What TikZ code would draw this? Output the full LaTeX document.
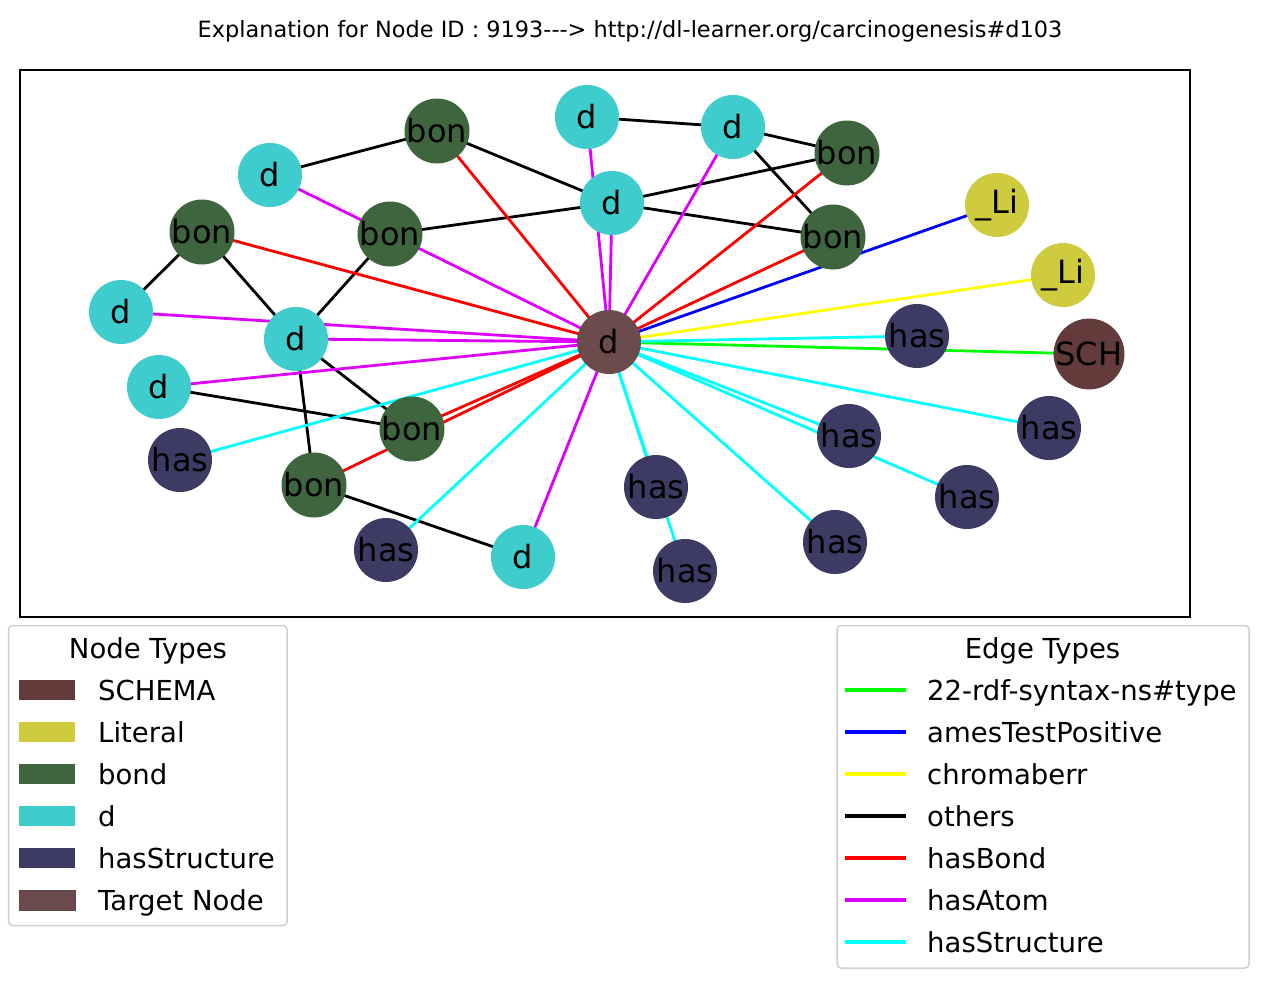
\documentclass[tikz,border=0pt]{standalone}
\usepackage{fontspec}
\setmainfont{DejaVu Sans}
\definecolor{dcol}{HTML}{3ECCCC}
\definecolor{bondcol}{HTML}{3E653E}
\definecolor{hascol}{HTML}{3D3B64}
\definecolor{litcol}{HTML}{CECC3E}
\definecolor{schcol}{HTML}{633B3B}
\definecolor{tgtcol}{HTML}{6B4B4B}
\definecolor{emag}{HTML}{DD00FF}
\definecolor{ecyan}{HTML}{00FFFF}
\definecolor{egreen}{HTML}{00FF00}
\definecolor{eblue}{HTML}{0000FF}
\definecolor{eyellow}{HTML}{FFFF00}
\definecolor{ered}{HTML}{FF0000}
\definecolor{legframe}{HTML}{D0D0D0}
\tikzset{
  nd/.style={circle, minimum size=64pt, inner sep=0pt, font=\fontsize{32}{36}\selectfont, text=black},
  dn/.style={nd, fill=dcol},
  bn/.style={nd, fill=bondcol},
  hn/.style={nd, fill=hascol},
  ln/.style={nd, fill=litcol},
  sn/.style={nd, fill=schcol},
  tn/.style={nd, fill=tgtcol},
  ed/.style={line width=2.8pt},
  eoth/.style={ed, black},
  ebond/.style={ed, ered},
  eatom/.style={ed, emag},
  estr/.style={ed, ecyan},
  etype/.style={ed, egreen},
  eames/.style={ed, eblue},
  echrom/.style={ed, eyellow},
  legbox/.style={draw=legframe, line width=1.5pt, rounded corners=4pt, fill=white},
  legtxt/.style={anchor=base west, inner sep=0pt, font=\fontsize{27.5}{31}\selectfont},
  legtitle/.style={anchor=base, inner sep=0pt, font=\fontsize{27.5}{31}\selectfont},
  patch/.style={minimum width=56pt, minimum height=20pt, inner sep=0pt},
  legline/.style={line width=4.5pt}
}
\pgfdeclarelayer{bg}
\pgfsetlayers{bg,main}

\begin{document}

\begin{tikzpicture}[x=1pt,y=-1pt]
\useasboundingbox (0,0) rectangle (1268,988);
% title
\node[anchor=base, inner sep=0pt, font=\fontsize{22.4}{26}\selectfont] (title) at (630,37) {Explanation for Node ID : 9193-{}-{}-> http://dl-learner.org/carcinogenesis\#d103};
% frame
\draw[line width=1.6pt] (20,70) rectangle (1190,617);
% nodes
\node[bn] (bon1) at (437,131) {bon};
\node[dn] (da) at (587,117) {d};
\node[dn] (db) at (733,127) {d};
\node[bn] (bon2) at (847,153) {bon};
\node[dn] (dc) at (270,175) {d};
\node[dn] (dct) at (612,203) {d};
\node[bn] (bon3) at (202,232) {bon};
\node[bn] (bon4) at (390,234) {bon};
\node[bn] (bon5) at (833,237) {bon};
\node[ln] (li1) at (997,205) {\_Li};
\node[ln] (li2) at (1063,275) {\_Li};
\node[dn] (dd) at (121,312) {d};
\node[dn] (de) at (296,339) {d};
\node[tn] (T) at (609,342) {d};
\node[hn] (has1) at (917,336) {has};
\node[sn] (sch) at (1089,354) {SCH};
\node[dn] (df) at (159,387) {d};
\node[bn] (bon6) at (412,429) {bon};
\node[hn] (has2) at (849,436) {has};
\node[hn] (has3) at (1049,428) {has};
\node[hn] (has4) at (180,460) {has};
\node[bn] (bon7) at (314,485) {bon};
\node[hn] (has5) at (967,497) {has};
\node[hn] (has6) at (656,487) {has};
\node[hn] (has7) at (386,550) {has};
\node[dn] (dg) at (523,557) {d};
\node[hn] (has8) at (835,542) {has};
\node[hn] (has9) at (685,571) {has};
% edges
\begin{pgfonlayer}{bg}
\fill[white] (0,0) rectangle (1268,988);
\draw[eoth] (dc.center) -- (bon1.center);
\draw[eoth] (bon1.center) -- (dct.center);
\draw[eoth] (da.center) -- (db.center);
\draw[eoth] (db.center) -- (bon2.center);
\draw[eoth] (db.center) -- (bon5.center);
\draw[eoth] (dct.center) -- (bon2.center);
\draw[eoth] (bon4.center) -- (dct.center);
\draw[eoth] (dct.center) -- (bon5.center);
\draw[eoth] (bon3.center) -- (dd.center);
\draw[eoth] (bon3.center) -- (de.center);
\draw[eoth] (bon4.center) -- (de.center);
\draw[eoth] (de.center) -- (bon6.center);
\draw[eoth] (de.center) -- (bon7.center);
\draw[eoth] (df.center) -- (bon6.center);
\draw[eoth] (bon7.center) -- (dg.center);
\draw[ebond] (bon1.center) -- (T.center);
\draw[ebond] (bon2.center) -- (T.center);
\draw[ebond] (bon3.center) -- (T.center);
\draw[ebond] (bon5.center) -- (T.center);
\draw[ebond] (bon6.center) -- (T.center);
\draw[ebond] (bon7.center) -- (T.center);
\draw[eatom] (dc.center) -- (T.center);
\draw[eatom] (da.center) -- (T.center);
\draw[eatom] (dct.center) -- (T.center);
\draw[eatom] (db.center) -- (T.center);
\draw[eatom] (dd.center) -- (T.center);
\draw[eatom] (de.center) -- (T.center);
\draw[eatom] (df.center) -- (T.center);
\draw[eatom] (dg.center) -- (T.center);
\draw[eames] (T.center) -- (li1.center);
\draw[echrom] (T.center) -- (li2.center);
\draw[etype] (T.center) -- (sch.center);
\draw[estr] (T.center) -- (has1.center);
\draw[estr] (T.center) -- (has2.center);
\draw[estr] (T.center) -- (has3.center);
\draw[estr] (T.center) -- (has4.center);
\draw[estr] (T.center) -- (has5.center);
\draw[estr] (T.center) -- (has6.center);
\draw[estr] (T.center) -- (has7.center);
\draw[estr] (T.center) -- (has8.center);
\draw[estr] (T.center) -- (has9.center);
\end{pgfonlayer}
% legend: node types
\draw[legbox] (8.5,625.5) rectangle (287,925.5);
\node[legtitle] (ntt) at (148,658) {Node Types};
\node[patch, fill=schcol] (p1) at (47,690) {};
\node[legtxt] (t1) at (98,700) {SCHEMA};
\node[patch, fill=litcol] (p2) at (47,732) {};
\node[legtxt] (t2) at (98,742) {Literal};
\node[patch, fill=bondcol] (p3) at (47,774) {};
\node[legtxt] (t3) at (98,784) {bond};
\node[patch, fill=dcol] (p4) at (47,816) {};
\node[legtxt] (t4) at (98,826) {d};
\node[patch, fill=hascol] (p5) at (47,858) {};
\node[legtxt] (t5) at (98,868) {hasStructure};
\node[patch, fill=tgtcol, draw=tgtcol!90!black, line width=0.8pt] (p6) at (47,900) {};
\node[legtxt] (t6) at (98,910) {Target Node};
% legend: edge types
\draw[legbox] (837,625.5) rectangle (1249,968);
\node[legtitle] (ett) at (1042.5,658) {Edge Types};
\coordinate (a1) at (845,690); \coordinate (b1) at (906,690);
\draw[legline, egreen] (a1) -- (b1);
\node[legtxt] (e1) at (927,700) {22-rdf-syntax-ns\#type};
\coordinate (a2) at (845,732); \coordinate (b2) at (906,732);
\draw[legline, eblue] (a2) -- (b2);
\node[legtxt] (e2) at (927,742) {amesTestPositive};
\coordinate (a3) at (845,774); \coordinate (b3) at (906,774);
\draw[legline, eyellow] (a3) -- (b3);
\node[legtxt] (e3) at (927,784) {chromaberr};
\coordinate (a4) at (845,816); \coordinate (b4) at (906,816);
\draw[legline, black] (a4) -- (b4);
\node[legtxt] (e4) at (927,826) {others};
\coordinate (a5) at (845,858); \coordinate (b5) at (906,858);
\draw[legline, ered] (a5) -- (b5);
\node[legtxt] (e5) at (927,868) {hasBond};
\coordinate (a6) at (845,900); \coordinate (b6) at (906,900);
\draw[legline, emag] (a6) -- (b6);
\node[legtxt] (e6) at (927,910) {hasAtom};
\coordinate (a7) at (845,942); \coordinate (b7) at (906,942);
\draw[legline, ecyan] (a7) -- (b7);
\node[legtxt] (e7) at (927,952) {hasStructure};
\end{tikzpicture}

\end{document}
